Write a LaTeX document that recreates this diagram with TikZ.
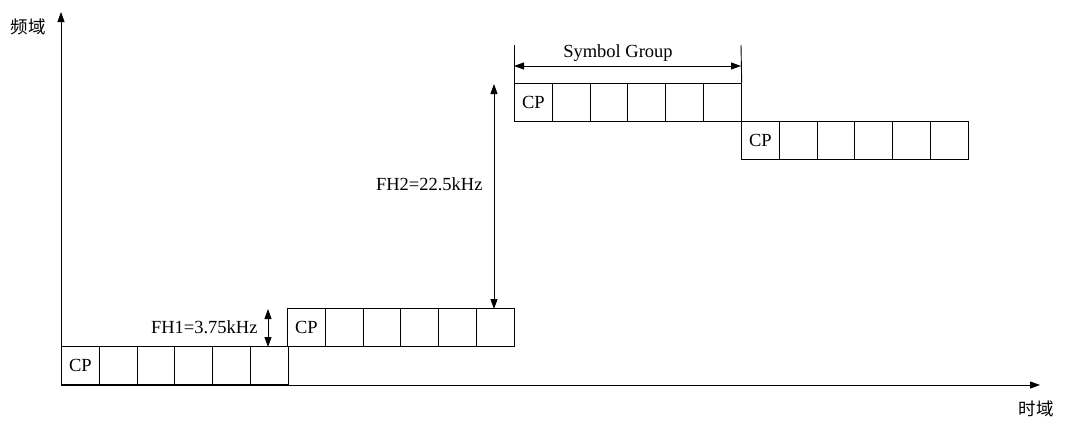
\documentclass[tikz,border=0pt]{standalone}
\usepackage{fontspec}
\setmainfont{Liberation Serif}
\newfontfamily\cjk{Noto Sans CJK SC}
\usetikzlibrary{arrows.meta}

\begin{document}
\begin{tikzpicture}[x=1pt, y=-1pt, line width=0.9pt,
    cell/.style={draw, minimum width=37.8pt, minimum height=38pt, inner sep=0pt,
                 anchor=south west, font=\fontsize{18.5}{18.5}\selectfont},
    lbl/.style={font=\fontsize{18.5}{18.5}\selectfont, inner sep=1pt},
    tip/.style={-{Triangle[length=10pt,width=7pt]}},
    dtip/.style={{Triangle[length=10pt,width=7pt]}-{Triangle[length=10pt,width=7pt]}}]
    % Fix the size of the picture
    \useasboundingbox (0,0) rectangle (1068,421);

    % Define the width of one cell
    \def\cw{37.8}

    % The four groups of cells: name / left edge / bottom edge
    \foreach \g/\x/\y in {a/61/385, b/287/347, c/514/122, d/741/160} {
        \foreach \i in {1,...,6} {
            \node[cell] (\g\i) at ({\x+(\i-1)*\cw}, \y) {\ifnum\i=1 CP\fi};
        }
    }

    % Axes
    \coordinate (o) at (61,385);
    \coordinate (ytip) at (61,12);
    \coordinate (xtip) at (1040,385);
    \draw[tip] (o) -- (ytip);
    \draw[tip] (o) -- (xtip);
    \node[lbl] (flabel) at (28,27) {\cjk\fontsize{17.5}{17.5}\selectfont 频域};
    \node[lbl] (tlabel) at (1036,409) {\cjk\fontsize{17.5}{17.5}\selectfont 时域};

    % Symbol group span
    \coordinate (sgl) at (514,45);
    \coordinate (sgr) at (741,45);
    \coordinate (sga) at (514,66);
    \coordinate (sgb) at (741,66);
    \draw (c1.north west) -- (sgl);
    \draw (c6.north east) -- (sgr);
    \draw[dtip] (sga) -- (sgb);
    \node[lbl] (sglabel) at (618,53) {Symbol Group};

    % Hop sizes
    \coordinate (fh1a) at (268,309);
    \coordinate (fh1b) at (268,347);
    \draw[dtip] (fh1a) -- (fh1b);
    \node[lbl, anchor=east] (fh1label) at (259,327) {FH1=3.75kHz};

    \coordinate (fh2a) at (494,84);
    \coordinate (fh2b) at (494,309);
    \draw[dtip] (fh2a) -- (fh2b);
    \node[lbl, anchor=east] (fh2label) at (484,184) {FH2=22.5kHz};
\end{tikzpicture}
\end{document}
